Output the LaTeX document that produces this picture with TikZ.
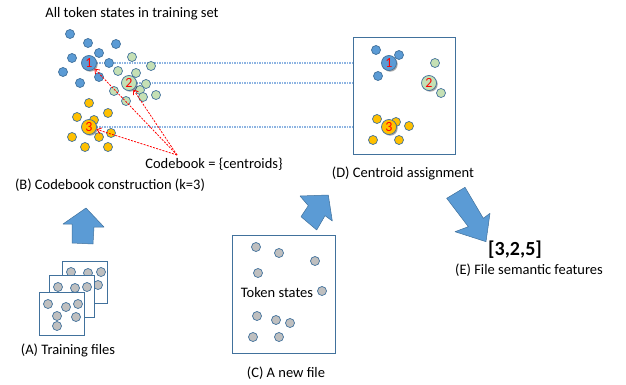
\documentclass[tikz,border=0pt]{standalone}
\usepackage{fontspec}
\setmainfont{Carlito}
\usetikzlibrary{arrows.meta,shadows,backgrounds}
\definecolor{bfill}{HTML}{5B9BD5}
\definecolor{gfill}{HTML}{C5E0B4}
\definecolor{yfill}{HTML}{FFC000}
\definecolor{grfill}{HTML}{BFBFBF}
\definecolor{dborder}{HTML}{41719C}
\definecolor{lineblue}{HTML}{8DB4E2}
\tikzset{
  dot/.style={circle, draw=dborder, line width=0.7pt, minimum size=9pt, inner sep=0pt},
  bdot/.style={dot, fill=bfill},
  gdot/.style={dot, fill=gfill},
  ydot/.style={dot, fill=yfill},
  grdot/.style={dot, fill=grfill, minimum size=9pt},
  cent/.style={circle, draw=dborder, line width=0.7pt, minimum size=15pt, inner sep=0pt,
    text=red, font=\fontsize{14}{14}\selectfont,
    drop shadow={shadow xshift=1.2pt, shadow yshift=-1.2pt, opacity=0.35, fill=black}},
  filebox/.style={draw=dborder, line width=0.8pt, fill=white},
  lbl/.style={font=\fontsize{14.5}{16}\selectfont, inner sep=0pt},
  redarr/.style={red, line width=0.8pt, dash pattern=on 2pt off 1.3pt, -{Straight Barb[length=4pt,width=6pt]}},
  bluearr/.style={lineblue, line width=1.2pt, dash pattern=on 1.5pt off 1pt, -{Straight Barb[length=4pt,width=6pt]}},
  blockarrow/.style={fill=bfill, draw=dborder, line width=0.5pt, line join=round}
}
\begin{document}
\begin{tikzpicture}[x=1pt,y=-1pt]
\useasboundingbox (0,0) rectangle (626,385);
% ---------- (B) codebook construction ----------
\node[lbl] (title) at (132,14) {All token states in training set};
\foreach \x/\y [count=\i] in {70/34,88/43,116/44,72/58,99/53,109/63,63/72,80/83,99/77}
  \node[bdot] (b\i) at (\x,\y) {};
\foreach \x/\y [count=\i] in {132/57,151/66,118/71,136/73,146/84,140/90,143/97,156/95,114/91,126/101}
  \node[gdot] (g\i) at (\x,\y) {};
\foreach \x/\y [count=\i] in {89/103,77/117,108/113,94/120,72/137,99/137,111/133,85/147,108/147}
  \node[ydot] (y\i) at (\x,\y) {};
\node[cent, fill=bfill] (c1) at (89,63) {1};
\node[cent, fill=gfill] (c2) at (129,83) {2};
\node[cent, fill=yfill] (c3) at (89,127) {3};
\node[lbl] (codebook) at (214,164) {Codebook = \{centroids\}};
\coordinate (cbtop) at (177,155);
\draw[redarr] (cbtop) -- (c1);
\draw[redarr] (cbtop) -- (c2);
\draw[redarr] (cbtop) -- (c3);
\node[lbl] (labB) at (110,185) {(B) Codebook construction (k=3)};
% ---------- (D) centroid assignment ----------
\node[filebox, minimum width=102pt, minimum height=117pt, inner sep=0pt] (boxD) at (404,95.5) {};
\foreach \x/\y [count=\i] in {376/50,399/55,378/76}
  \node[bdot] (db\i) at (\x,\y) {};
\foreach \x/\y [count=\i] in {435/63,441/93}
  \node[gdot] (dg\i) at (\x,\y) {};
\foreach \x/\y [count=\i] in {377/119,396/122,409/126,373/140,399/140}
  \node[ydot] (dy\i) at (\x,\y) {};
\node[cent, fill=bfill] (d1) at (389,63) {1};
\node[cent, fill=gfill] (d2) at (429,83) {2};
\node[cent, fill=yfill] (d3) at (389,127) {3};
\begin{scope}[on background layer]
\draw[bluearr] (c1.east) -- (d1.west);
\draw[bluearr] (c2.east) -- (d2.west);
\draw[bluearr] (c3.east) -- (d3.west);
\end{scope}
\node[lbl] (labD) at (403,173) {(D) Centroid assignment};
% ---------- (A) training files ----------
\node[filebox, minimum width=45pt, minimum height=42pt, inner sep=0pt] (fA3) at (84.5,282) {};
\foreach \x/\y [count=\i] in {71/272,88/273,101/272,98/285}
  \node[grdot] (fa3\i) at (\x,\y) {};
\node[filebox, minimum width=45pt, minimum height=42pt, inner sep=0pt] (fA2) at (71.5,296) {};
\foreach \x/\y [count=\i] in {58/287,75/288,87/287}
  \node[grdot] (fa2\i) at (\x,\y) {};
\begin{scope}
\clip (94.5,275) rectangle (110,320);
\node[grdot] (fa24) at (86,299) {};
\end{scope}
\node[filebox, minimum width=45pt, minimum height=43pt, inner sep=0pt] (fA1) at (61.5,313.5) {};
\foreach \x/\y [count=\i] in {48/304,66/307,78/304,57/316,76/317,57/326}
  \node[grdot] (fa1\i) at (\x,\y) {};
\node[lbl] (labA) at (68,350) {(A) Training files};
\draw[blockarrow] (86,208) -- (104,227) -- (94,227) -- (93,244) -- (72,243) -- (72,224) -- (63,224) -- cycle;
% ---------- (C) a new file ----------
\node[filebox, minimum width=103pt, minimum height=118pt, inner sep=0pt] (boxC) at (283.5,294) {};
\foreach \x/\y [count=\i] in {256/247,279/253,315/261,258/273,322/291,257/316,276/320,290/323,253/337,279/337}
  \node[grdot] (c\i dot) at (\x,\y) {};
\node[lbl] (tok) at (277,293) {Token states};
\node[lbl] (labC) at (286,373) {(C) A new file};
\draw[blockarrow] (328.3,195) -- (332.3,221) -- (325,215.7) -- (316.7,230) -- (301,216.7) -- (308.3,205.7) -- (300,196) -- cycle;
% ---------- (E) features ----------
\draw[blockarrow] (446.7,198.3) -- (465,187.3) -- (483.3,218.3) -- (490,213.3) -- (486,241.7) -- (455,231.7) -- (468.3,226.7) -- cycle;
\node[font=\fontsize{20}{22}\selectfont\bfseries, inner sep=0pt] (vec) at (515,250) {[3,2,5]};
\node[lbl] (labE) at (529,270) {(E) File semantic features};
\end{tikzpicture}
\end{document}
